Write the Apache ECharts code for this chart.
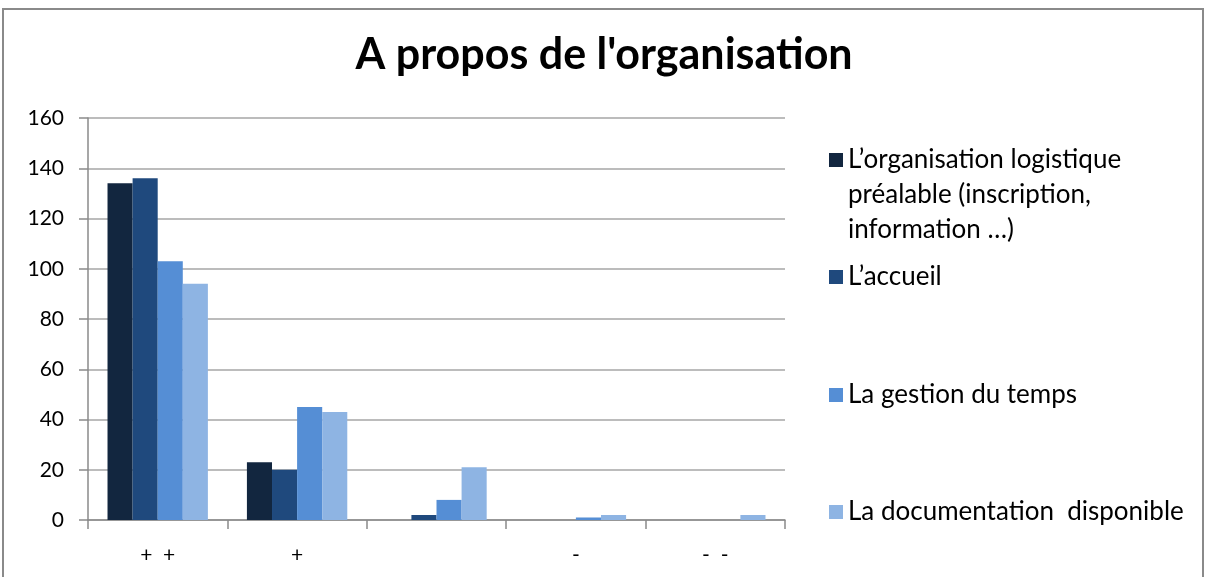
<!DOCTYPE html>
<html>
<head>
<meta charset="utf-8">
<script src="https://cdn.jsdelivr.net/npm/echarts@6/dist/echarts.min.js"></script>
<style>
html,body{margin:0;padding:0;background:#fff;}
#main{width:1208px;height:577px;}
</style>
</head>
<body>
<div id="main"></div>
<script>
const title = "A propos de l'organisation";
const categories = ["+  +", "+", "", "-", "-  -"];
const seriesNames = [
  "L\u2019organisation logistique\npréalable (inscription,\ninformation \u2026)",
  "L\u2019accueil",
  "La gestion du temps",
  "La documentation  disponible"
];
const logistique = [134, 23, 0, 0, 0];
const accueil = [136, 20, 2, 0, 0];
const gestionTemps = [103, 45, 8, 1, 0];
const documentation = [94, 43, 21, 2, 2];
const yTicks = [0, 20, 40, 60, 80, 100, 120, 140, 160];

const colors = ["#12263F", "#1F497D", "#558ED5", "#8EB4E3"];
const values = [logistique, accueil, gestionTemps, documentation];
const font = "Lato, 'Open Sans', sans-serif";
const legendCenters = [160, 277, 395, 512];
const legendLineH = 35;
const legendFont = 26;
const legendLeft = 829;

const firstLines = seriesNames[0].split('\n');
const extraLines = firstLines.slice(1).map((t, k) => ({
  type: 'text', silent: true,
  x: legendLeft + 19, y: legendCenters[0] + (k + 1) * legendLineH,
  style: {text: t, fontFamily: font, fontSize: legendFont, fill: '#000', textVerticalAlign: 'middle', verticalAlign: 'middle'}
}));

const chart = echarts.init(document.getElementById('main'));
chart.setOption({
  animation: false,
  backgroundColor: '#fff',
  title: {
    text: title, left: 'center', top: 34, padding: 0,
    textStyle: {fontFamily: font, fontSize: 43, fontWeight: 'bold', color: '#000'}
  },
  graphic: [{
    type: 'rect', silent: true,
    shape: {x: 3, y: 9, width: 1200, height: 620},
    style: {fill: 'none', stroke: '#8a8a8a', lineWidth: 2}
  }].concat(extraLines),
  legend: seriesNames.map((n, i) => ({
    data: [n], left: legendLeft, top: legendCenters[i] - legendLineH / 2, padding: 0,
    icon: 'rect', itemWidth: 14, itemHeight: 14,
    selectedMode: false,
    formatter: name => name.split('\n')[0],
    textStyle: {fontFamily: font, fontSize: legendFont, color: '#000', lineHeight: legendLineH}
  })),
  grid: {left: 88, right: 423, top: 118, bottom: 57, containLabel: false},
  xAxis: {
    type: 'category', data: categories,
    axisLine: {show: true, lineStyle: {color: '#8a8a8a', width: 1.5}},
    axisTick: {show: true, length: 9, lineStyle: {color: '#8a8a8a', width: 1.5}},
    axisLabel: {fontFamily: font, fontSize: 21, color: '#000', margin: 25}
  },
  yAxis: {
    type: 'value', min: yTicks[0], max: yTicks[yTicks.length - 1], interval: yTicks[1] - yTicks[0],
    axisLine: {show: true, lineStyle: {color: '#8a8a8a', width: 1.5}},
    axisTick: {show: true, length: 9, lineStyle: {color: '#8a8a8a', width: 1.5}},
    splitLine: {show: true, lineStyle: {color: '#a6a6a6', width: 1.5}},
    axisLabel: {fontFamily: font, fontSize: 21, color: '#000', margin: 24}
  },
  series: seriesNames.map((n, i) => ({
    name: n, type: 'bar', data: values[i],
    barGap: '0%', barCategoryGap: '28%',
    itemStyle: {color: colors[i]}
  }))
});
</script>
</body>
</html>
